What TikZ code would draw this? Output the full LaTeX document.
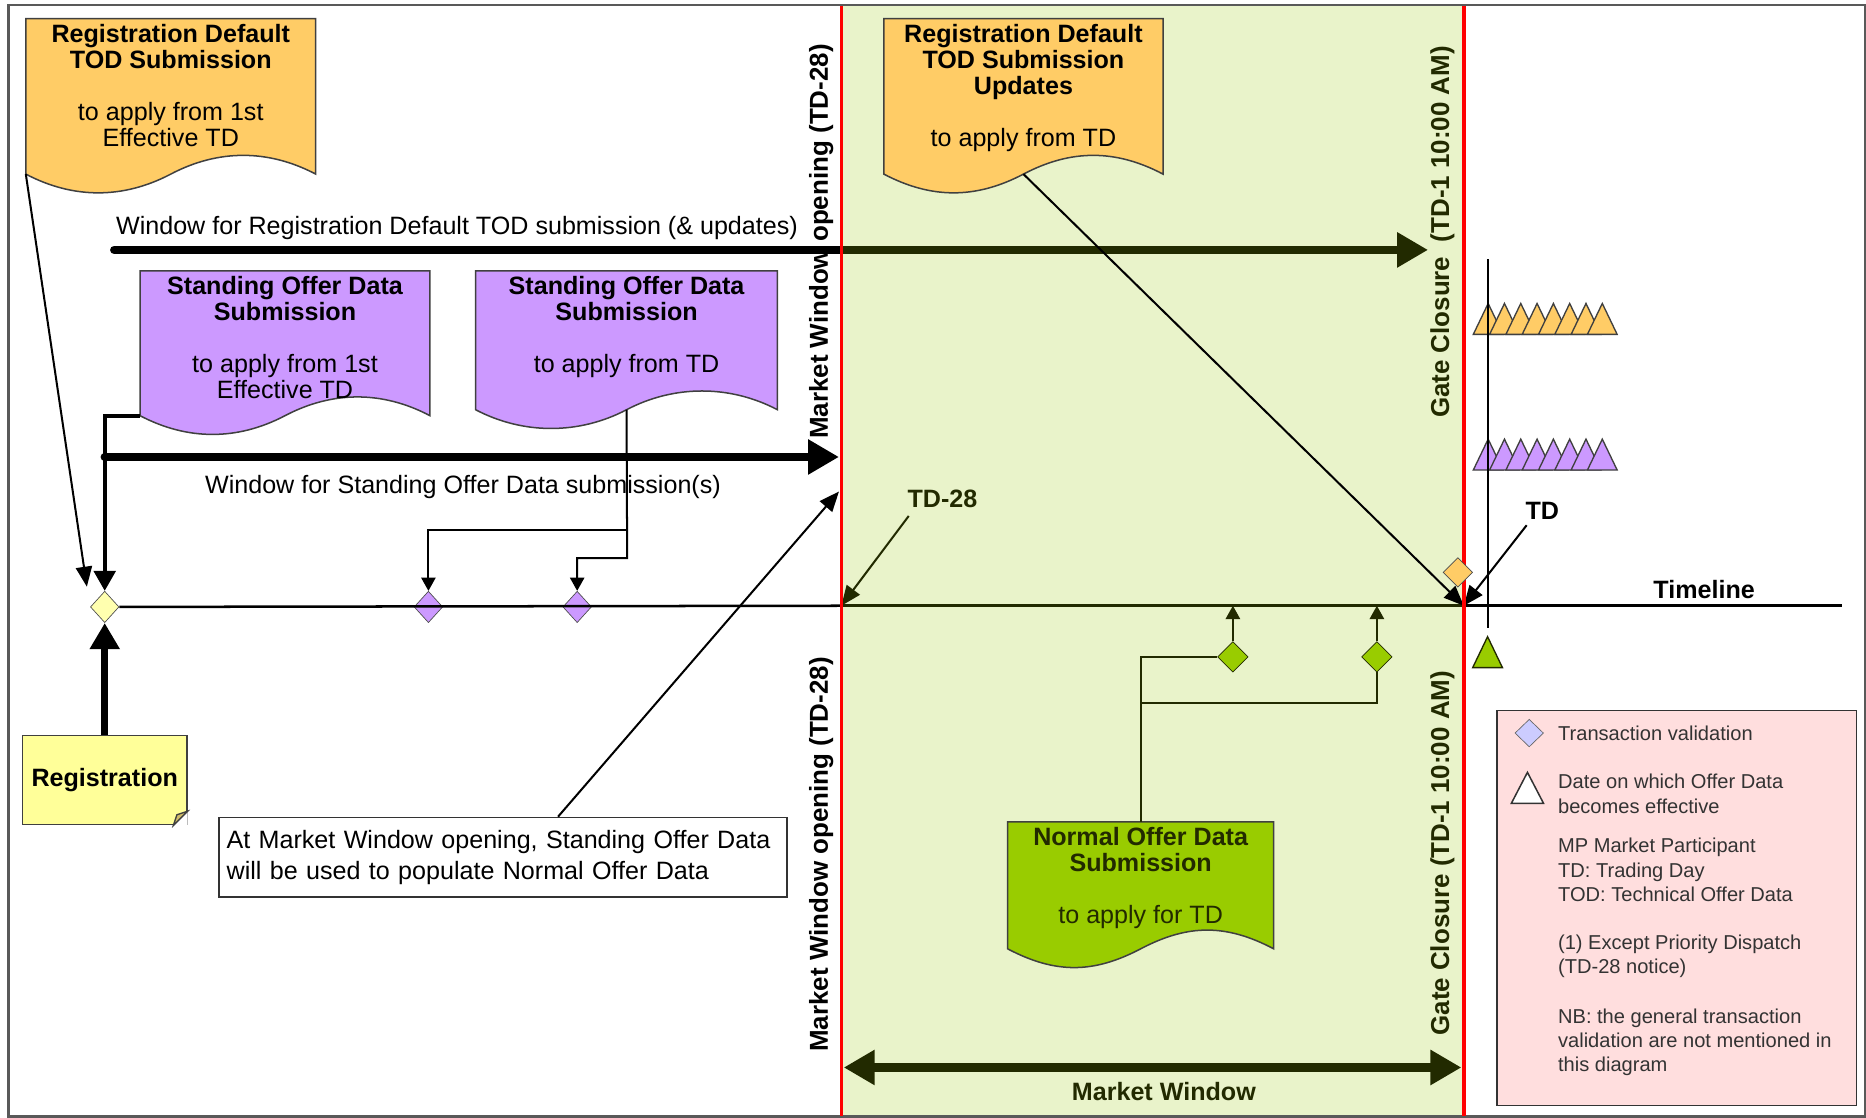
\documentclass[tikz,border=0pt]{standalone}
\usepackage{fontspec}
\setmainfont{Liberation Sans}
\usetikzlibrary{arrows.meta,shapes.geometric,calc}

\definecolor{todorange}{RGB}{255,204,102}
\definecolor{sodpurple}{RGB}{204,153,255}
\definecolor{nodgreen}{RGB}{153,204,0}
\definecolor{windowgreen}{RGB}{233,243,202}
\definecolor{darkolive}{RGB}{34,42,0}
\definecolor{notepink}{RGB}{255,222,222}
\definecolor{regyellow}{RGB}{255,255,153}
\definecolor{diayellow}{RGB}{255,255,175}
\definecolor{validblue}{RGB}{204,204,255}

\tikzset{
  docbox/.style={rectangle, inner sep=0pt},
  doctext/.style={align=center, inner sep=0pt, yshift=-3pt, font=\fontsize{15}{15.6}\selectfont},
  link/.style={line width=1.2pt},
  ptr/.style={link, -{Triangle[length=0.42cm,width=0.34cm]}},
  smallptr/.style={link, -{Triangle[length=0.28cm,width=0.3cm]}},
  winline/.style={line width=5pt, line cap=round},
  winarrow/.style={line width=5pt, -{Triangle[length=0.65cm,width=0.7cm]}},
  valid/.style={diamond, draw=black!70, inner sep=0pt, minimum width=0.6cm, minimum height=0.66cm},
  sidelabel/.style={rotate=90, inner sep=1pt, font=\bfseries\fontsize{15.5}{18}\selectfont},
  lbl/.style={inner sep=2pt, font=\fontsize{15}{18}\selectfont},
  boldlbl/.style={inner sep=2pt, font=\bfseries\fontsize{15}{18}\selectfont},
  legendtext/.style={anchor=west, align=left, inner sep=0pt, text=black!80, font=\fontsize{12}{14.5}\selectfont},
}

% document shape with a wavy bottom, drawn round an empty node
\newcommand{\wavydoc}[2]{%
  \filldraw[fill=#2, draw=black!75, line width=0.9pt] (#1.north west) -- (#1.north east) -- (#1.south east)
    .. controls +(-40,-21) and +(40,-21) .. (#1.south)
    .. controls +(-40,21) and +(40,21) .. (#1.south west) -- cycle;}

\begin{document}
\begin{tikzpicture}[x=0.025cm, y=-0.025cm]
\useasboundingbox (0,0) rectangle (1568,939);
\fill[white] (0,0) rectangle (1568,939);

% market window background
\fill[windowgreen] (707,5) rectangle (1230,937);
\draw[black!65, line width=1.5pt] (7,4) rectangle (1567,938);

% named points
\coordinate (mwopen) at (707,509);
\coordinate (gclose) at (1230,509);
\coordinate (tlend) at (1548,509);
\coordinate (regwinstart) at (96,210);
\coordinate (regwinmid) at (707,210);
\coordinate (regwinend) at (1200,210);
\coordinate (sodwinstart) at (88,384);
\coordinate (sodwinend) at (705,384);
\coordinate (sodfork) at (527,469);
\coordinate (sodforkb) at (527,445);
\coordinate (nodfork) at (958.5,591);
\coordinate (mwnotetip) at (705,413);
\coordinate (mwleft) at (709,897);
\coordinate (mwright) at (1228,897);

% side labels
\node[sidelabel] (mwotop) at (690,203) {Market Window opening (TD-28)};
\node[sidelabel] (mwobot) at (690,718) {Market Window opening (TD-28)};
\node[sidelabel, text=darkolive] (gctop) at (1212,195) {Gate Closure\ \ (TD-1 10:00 AM)};
\node[sidelabel, text=darkolive] (gcbot) at (1212,717) {Gate Closure (TD-1 10:00 AM)};

% documents
\node[docbox, minimum width=6.075cm, minimum height=3.25cm] (regtod) at (143.5,81) {};
\wavydoc{regtod}{todorange}
\node[doctext] (regtodtext) [anchor=north] at (regtod.north) {{\bfseries Registration Default}\\{\bfseries TOD Submission}\\[15.6pt]to apply from 1st\\Effective TD};

\node[docbox, minimum width=5.85cm, minimum height=3.25cm] (regupd) at (860,81) {};
\wavydoc{regupd}{todorange}
\node[doctext] (regupdtext) [anchor=north] at (regupd.north) {{\bfseries Registration Default}\\{\bfseries TOD Submission}\\{\bfseries Updates}\\[15.6pt]to apply from TD};

\node[docbox, minimum width=6.075cm, minimum height=3.025cm] (sod1) at (239.5,288.5) {};
\wavydoc{sod1}{sodpurple}
\node[doctext] (sod1text) [anchor=north] at (sod1.north) {{\bfseries Standing Offer Data}\\{\bfseries Submission}\\[15.6pt]to apply from 1st\\Effective TD};

\node[docbox, minimum width=6.325cm, minimum height=2.9cm] (sod2) at (526.5,286) {};
\wavydoc{sod2}{sodpurple}
\node[doctext] (sod2text) [anchor=north] at (sod2.north) {{\bfseries Standing Offer Data}\\{\bfseries Submission}\\[15.6pt]to apply from TD};

\node[docbox, minimum width=5.575cm, minimum height=2.65cm] (nod) at (958.5,744) {};
\wavydoc{nod}{nodgreen}
\node[doctext, text=darkolive] (nodtext) [anchor=north] at (nod.north) {{\bfseries Normal Offer Data}\\{\bfseries Submission}\\[15.6pt]to apply for TD};

% registration note
\node[draw=black!75, fill=regyellow, line width=0.9pt, minimum width=3.45cm, minimum height=1.875cm, font=\bfseries\fontsize{15}{18}\selectfont] (regnote) at (88,655.5) {Registration};
\fill[white] (regnote.south east) -- ++(-12,0) -- ++(12,-12) -- cycle;
\filldraw[fill=regyellow!70!black!60!todorange, draw=black!75, line width=0.8pt] ($(regnote.south east)+(-12,0)$) -- ($(regnote.south east)+(0,-12)$) -- ($(regnote.south east)+(-9,-9)$) -- cycle;

% annotation and legend
\node[draw=black!80, fill=white, line width=1pt, minimum width=11.925cm, minimum height=1.675cm, text width=11.6cm, align=left, font=\fontsize{15}{18.4}\selectfont] (mwnote) at (422.5,720.5) {At Market Window opening, Standing Offer Data\\will be used to populate Normal Offer Data};
\node[draw=black!80, fill=notepink, line width=1pt, minimum width=7.55cm, minimum height=8.3cm] (legend) at (1409,763) {};
\node[valid, fill=validblue, draw=black!60, minimum width=0.6cm, minimum height=0.58cm] (legdia) at (1285,616) {};
\filldraw[fill=white, draw=black!80, line width=0.9pt] (1270,675) -- (1283.5,649) -- (1297,675) -- cycle;
\node[legendtext] (legvalid) at (1309,616) {Transaction validation};
\node[legendtext] (legeff) at (1309,667) {Date on which Offer Data\\becomes effective};
\node[legendtext] (legabbr) at (1309,731) {MP Market Participant\\TD: Trading Day\\TOD: Technical Offer Data};
\node[legendtext] (legexc) at (1309,803.5) {(1) Except Priority Dispatch\\(TD-28 notice)};
\node[legendtext] (legnb) at (1309,876) {NB: the general transaction\\validation are not mentioned in\\this diagram};

% labels
\node[lbl] (regwinlbl) at (384,192) {Window for Registration Default TOD submission (\& updates)};
\node[lbl] (sodwinlbl) at (389,409) {Window for Standing Offer Data submission(s)};
\node[boldlbl, text=darkolive] (td28) at (792,419) {TD-28};
\node[boldlbl] (tdlbl) at (1296,429) {TD};
\node[boldlbl] (tllbl) at (1432,495) {Timeline};
\node[boldlbl, text=darkolive] (mwlbl) at (978,917) {Market Window};

% effective dates
\foreach \i in {0,...,7}{
  \filldraw[fill=todorange, draw=black!75, line width=0.8pt] ({1238+13.7*\i},281) -- ++(12.5,-26) -- ++(12.5,26) -- cycle;
  \filldraw[fill=sodpurple, draw=black!75, line width=0.8pt] ({1238+13.7*\i},395) -- ++(12.5,-26) -- ++(12.5,26) -- cycle;
}
\filldraw[fill=nodgreen, draw=darkolive, line width=0.8pt] (1237.5,561) -- (1250,535) -- (1262.5,561) -- cycle;
\draw[link] (1250,218) -- (1250,528);

% diamonds
\node[valid, fill=diayellow] (diareg) at (88,510) {};
\node[valid, fill=sodpurple] (diasod1) at (360,510) {};
\node[valid, fill=sodpurple] (diasod2) at (485,510) {};
\node[valid, fill=nodgreen, draw=darkolive, minimum width=0.64cm, minimum height=0.64cm] (dianod1) at (1036,552) {};
\node[valid, fill=nodgreen, draw=darkolive, minimum width=0.64cm, minimum height=0.64cm] (dianod2) at (1157,552) {};

% timeline
\draw[line width=1.5pt] (diareg.east) -- (mwopen);
\draw[line width=1.5pt, darkolive] (mwopen) -- (gclose);
\draw[line width=1.5pt] (gclose) -- (tlend);

% windows
\draw[winline] (regwinstart) -- (regwinmid);
\draw[winarrow, darkolive] (regwinmid) -- (regwinend);
\draw[winline, -{Triangle[length=0.65cm,width=0.7cm]}] (sodwinstart) -- (sodwinend);
\draw[line width=5pt, darkolive, {Triangle[length=0.65cm,width=0.7cm]}-{Triangle[length=0.65cm,width=0.7cm]}] (mwleft) -- (mwright);

% connectors
\draw[ptr] (regtod.south west) -- ($(diareg.center)+(-15,-17)$);
\draw[line width=2.5pt, -{Triangle[length=0.42cm,width=0.45cm]}] (sod1.south west) -| (diareg.north);
\draw[line width=4.5pt, -{Triangle[length=0.55cm,width=0.6cm]}] (regnote.north) -- (diareg.south);
\draw[smallptr] (sod2.south) -- (sodfork) -| (diasod2.north);
\draw[smallptr] (sodforkb) -| (diasod1.north);
\draw[ptr] ([xshift=1.16cm]mwnote.north) -- (mwnotetip);
\draw[ptr, darkolive] ($(td28.south west)+(4,4)$) -- (mwopen);
\draw[ptr] (regupd.south) -- (gclose);
\draw[ptr] ($(tdlbl.south west)+(4,2)$) -- (gclose);
\draw[link, darkolive] (nod.north) |- (dianod1.west);
\draw[link, darkolive] (nodfork) -| (dianod2.south);
\draw[smallptr, darkolive] (dianod1.north) -- (dianod1.north |- mwopen);
\draw[smallptr, darkolive] (dianod2.north) -- (dianod2.north |- mwopen);

% window limits
\draw[red, line width=2.2pt] (707,5) -- (707,938);
\draw[red, line width=2.2pt] (1230,5) -- (1230,938);
\node[valid, fill=todorange, minimum width=0.62cm, minimum height=0.62cm] (diaupd) at (1225,481) {};
\end{tikzpicture}
\end{document}
